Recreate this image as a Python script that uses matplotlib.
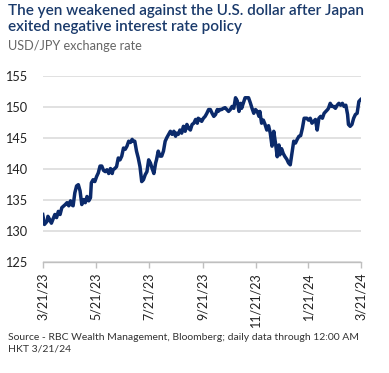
import matplotlib
matplotlib.use("Agg")
import matplotlib.pyplot as plt
import matplotlib.dates as mdates
import pandas as pd

plt.rcParams['font.family'] = ['Lato', 'DejaVu Sans']

title = "The yen weakened against the U.S. dollar after Japan\nexited negative interest rate policy"
subtitle = "USD/JPY exchange rate"
source = "Source - RBC Wealth Management, Bloomberg; daily data through 12:00 AM\nHKT 3/21/24"

dates_2023 = [
    "3/21", "3/23", "3/26", "3/27", "3/29", "3/31", "4/4", "4/6", "4/8", "4/10",
    "4/12", "4/16", "4/18", "4/20", "4/22", "4/23", "4/25", "4/27", "4/29", "5/1",
    "5/3", "5/5", "5/7", "5/9", "5/11", "5/13", "5/15", "5/16", "5/18", "5/20",
    "5/22", "5/24", "5/26", "5/28", "5/30", "6/1", "6/3", "6/5", "6/7", "6/9",
    "6/10", "6/12", "6/14", "6/16", "6/18", "6/20", "6/22", "6/24", "6/26", "6/28",
    "6/30", "7/2", "7/3", "7/5", "7/7", "7/9", "7/11", "7/13", "7/15", "7/17",
    "7/19", "7/21", "7/23", "7/25", "7/27", "7/29", "7/30", "8/1", "8/3", "8/5",
    "8/7", "8/9", "8/11", "8/13", "8/15", "8/17", "8/19", "8/21", "8/22", "8/24",
    "8/26", "8/28", "8/30", "9/1", "9/3", "9/5", "9/7", "9/9", "9/11", "9/13",
    "9/15", "9/16", "9/18", "9/20", "9/22", "9/24", "9/26", "9/28", "9/30", "10/2",
    "10/4", "10/6", "10/8", "10/9", "10/11", "10/13", "10/15", "10/17", "10/19", "10/21",
    "10/23", "10/25", "10/27", "10/29", "10/31", "11/2", "11/4", "11/5", "11/9", "11/13",
    "11/15", "11/17", "11/19", "11/21", "11/23", "11/25", "11/26", "11/28", "11/30", "12/2",
    "12/4", "12/6", "12/8", "12/10", "12/12", "12/14", "12/16", "12/18", "12/19", "12/21",
    "12/23", "12/25", "12/27", "12/29", "12/31",
]
values_2023 = [
    132.7, 131.1, 131.6, 132.4, 131.9, 131.3, 132.7, 132.2, 133.2, 132.7,
    133.8, 134.3, 134.6, 134.1, 134.9, 134.3, 134.1, 136.2, 137.3, 137.5,
    136.5, 134.3, 135.1, 134.6, 135.6, 134.9, 135.4, 137.8, 138.3, 138.0,
    138.8, 139.4, 140.5, 140.5, 139.8, 139.6, 139.9, 139.3, 140.1, 139.3,
    139.9, 140.1, 140.4, 141.8, 141.5, 142.1, 143.4, 143.2, 143.7, 144.5,
    144.3, 144.8, 144.5, 144.5, 142.9, 141.8, 140.4, 138.0, 138.3, 139.1,
    139.6, 141.5, 141.0, 140.1, 139.3, 141.0, 141.5, 142.9, 142.1, 142.1,
    142.9, 144.5, 145.1, 145.6, 146.1, 145.6, 146.1, 145.3, 145.8, 145.6,
    146.3, 145.8, 146.9, 146.1, 147.2, 146.6, 146.3, 147.2, 147.4, 148.0,
    147.4, 148.2, 148.0, 147.7, 148.2, 148.5, 149.0, 149.6, 149.6, 149.0,
    148.5, 148.8, 149.6, 149.3, 149.6, 149.6, 149.8, 149.9, 149.6, 149.3,
    149.6, 150.1, 149.8, 151.5, 151.0, 149.3, 150.6, 149.8, 151.5, 151.5,
    150.7, 149.8, 149.0, 149.6, 149.3, 148.5, 149.3, 147.4, 147.9, 147.2,
    146.3, 147.0, 145.8, 143.7, 146.1, 144.2, 142.0, 143.9, 142.3, 143.3,
    142.5, 142.0, 141.6, 141.0, 140.7,
]
dates_2024 = [
    "1/2", "1/4", "1/6", "1/8", "1/10", "1/12", "1/14", "1/16", "1/19", "1/21",
    "1/23", "1/25", "1/27", "1/29", "1/31", "2/2", "2/4", "2/6", "2/8", "2/10",
    "2/12", "2/13", "2/15", "2/17", "2/19", "2/21", "2/23", "2/25", "2/27", "2/29",
    "3/2", "3/4", "3/6", "3/7", "3/9", "3/11", "3/13", "3/15", "3/17", "3/19",
    "3/21",
]
values_2024 = [
    142.6, 144.5, 144.2, 144.8, 145.3, 145.4, 146.6, 148.2, 148.2, 147.9,
    148.2, 147.4, 147.7, 148.0, 146.3, 148.2, 148.5, 148.2, 149.0, 149.3,
    149.6, 149.8, 150.6, 150.1, 150.1, 149.8, 150.3, 150.6, 150.3, 150.6,
    150.1, 150.3, 148.8, 147.2, 146.9, 147.2, 148.2, 148.8, 149.0, 150.9,
    151.2,
]
tick_labels = ["3/21/23", "5/21/23", "7/21/23", "9/21/23", "11/21/23", "1/21/24", "3/21/24"]
y_ticks = [125, 130, 135, 140, 145, 150, 155]

dates = pd.to_datetime([d + "/2023" for d in dates_2023] + [d + "/2024" for d in dates_2024],
                       format="%m/%d/%Y")
values = values_2023 + values_2024
tick_dates = pd.to_datetime(tick_labels, format="%m/%d/%y")

navy = "#0b2a6b"
fig = plt.figure(figsize=(3.89, 3.73), dpi=100)
ax = fig.add_axes([0.1098, 0.2968, 0.8172, 0.4994])

ax.plot(dates, values, color=navy, lw=2.5, solid_joinstyle='round', zorder=3)
ax.set_xlim(tick_dates[0], tick_dates[-1])
ax.set_ylim(125, 155)
ax.set_yticks(y_ticks)
ax.set_yticklabels([str(v) for v in y_ticks])
ax.set_xticks(tick_dates)
ax.set_xticklabels(tick_labels, rotation=90)
ax.grid(axis='y', color='#d9d9d9', lw=1.1)
ax.set_axisbelow(True)
for s in ['left', 'right', 'top']:
    ax.spines[s].set_visible(False)
ax.spines['bottom'].set_color('#bfbfbf')
ax.spines['bottom'].set_linewidth(1.0)
ax.tick_params(axis='y', length=0, pad=11, labelsize=9.2, labelcolor='#222222')
ax.tick_params(axis='x', length=4, color='#bfbfbf', width=1.0, pad=3, labelsize=9, labelcolor='#222222')

fig.text(0.02, 0.99, title, ha='left', va='top', fontsize=11, fontweight='semibold',
         color='#1a3a6b', linespacing=1.2)
fig.text(0.02, 0.893, subtitle, ha='left', va='top', fontsize=9.2, color='#666666')
fig.text(0.02, 0.107, source, ha='left', va='top', fontsize=7.5, color='#333333',
         linespacing=1.3)

fig.savefig("out.png", dpi=100)
